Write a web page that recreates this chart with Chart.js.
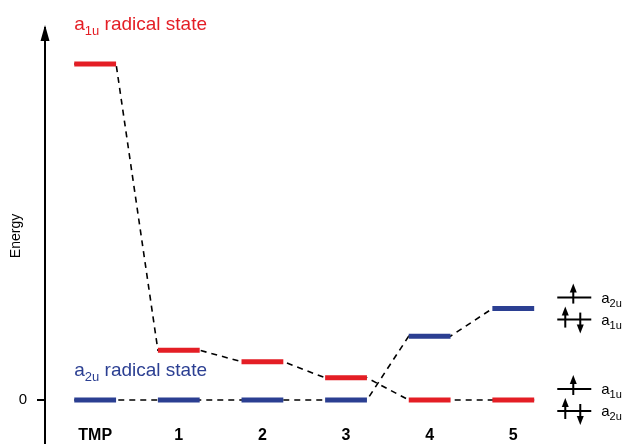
<!DOCTYPE html>
<html>
<head>
<meta charset="utf-8">
<script src="https://cdn.jsdelivr.net/npm/chart.js@4.4.0/dist/chart.umd.min.js"></script>
<style>
  html, body { margin: 0; padding: 0; background: #fff; }
</style>
</head>
<body>
<canvas id="levelChart" width="627" height="444"></canvas>
<script>
// compounds along the x axis
const categories = ["TMP", "1", "2", "3", "4", "5"];
// relative energies (arbitrary units, a2u of TMP = 0)
const a1uLevels = [10.0, 1.48, 1.14, 0.66, 0, 0];
const a2uLevels = [0, 0, 0, 0, 1.9, 2.72];
const yTickValues = [0];

const redColor = "#e41e25";
const blueColor = "#2b3f92";
const halfWidth = 0.25;

function levelPoints(levels){
    let pts = [];
    levels.forEach((v, i) => {
        pts.push({x: i - halfWidth, y: v});
        pts.push({x: i + halfWidth, y: v});
        pts.push({x: i + 0.5, y: null});
    });
    return pts;
}

function connectorPoints(levels){
    let pts = [];
    levels.forEach((v, i) => {
        pts.push({x: i - halfWidth, y: v});
        pts.push({x: i + halfWidth, y: v});
    });
    return pts;
}

function drawSubLabel(ctx, x, y, main, sub, rest, size, color){
    ctx.save();
    ctx.fillStyle = color;
    ctx.textBaseline = "alphabetic";
    ctx.textAlign = "left";
    ctx.font = size + "px 'Liberation Sans', Arial, sans-serif";
    ctx.fillText(main, x, y);
    let w = ctx.measureText(main).width;
    let subSize = Math.round(size * 0.71);
    ctx.font = subSize + "px 'Liberation Sans', Arial, sans-serif";
    ctx.fillText(sub, x + w, y + size * 0.27);
    w += ctx.measureText(sub).width;
    if(rest){
        ctx.font = size + "px 'Liberation Sans', Arial, sans-serif";
        ctx.fillText(rest, x + w, y);
    }
    ctx.restore();
}

function arrow(ctx, x, y1, y2){
    // from y1 (tail) to y2 (head)
    let dir = y2 < y1 ? 1 : -1;
    ctx.beginPath();
    ctx.moveTo(x, y1);
    ctx.lineTo(x, y2 + dir * 5);
    ctx.stroke();
    ctx.beginPath();
    ctx.moveTo(x, y2);
    ctx.lineTo(x - 3.5, y2 + dir * 9);
    ctx.lineTo(x + 3.5, y2 + dir * 9);
    ctx.closePath();
    ctx.fill();
}

const decorations = {
    id: "decorations",
    afterDraw(chart){
        const ctx = chart.ctx;
        const xs = chart.scales.x;
        const ys = chart.scales.y;
        const area = chart.chartArea;

        // arrow head on the energy axis
        ctx.save();
        ctx.fillStyle = "#000";
        ctx.beginPath();
        ctx.moveTo(area.left, area.top - 3);
        ctx.lineTo(area.left - 4.5, area.top + 13);
        ctx.lineTo(area.left + 4.5, area.top + 13);
        ctx.closePath();
        ctx.fill();
        ctx.restore();

        // state labels
        const lx = xs.getPixelForValue(-halfWidth);
        drawSubLabel(ctx, lx, ys.getPixelForValue(a1uLevels[0]) - 34, "a", "1u", " radical state", 19, redColor);
        drawSubLabel(ctx, lx, ys.getPixelForValue(a2uLevels[0]) - 24, "a", "2u", " radical state", 19, blueColor);

        // orbital occupation diagrams
        const cx = xs.getPixelForValue(categories.length - 1) + 61;
        const groups = [
            {y: ys.getPixelForValue(a2uLevels[a2uLevels.length - 1]), top: "2u", bottom: "1u"},
            {y: ys.getPixelForValue(0), top: "1u", bottom: "2u"}
        ];
        ctx.save();
        ctx.strokeStyle = "#000";
        ctx.fillStyle = "#000";
        ctx.lineWidth = 2;
        groups.forEach(g => {
            let yTop = g.y - 11;
            let yBot = g.y + 11;
            ctx.beginPath();
            ctx.moveTo(cx - 17, yTop);
            ctx.lineTo(cx + 17, yTop);
            ctx.moveTo(cx - 17, yBot);
            ctx.lineTo(cx + 17, yBot);
            ctx.stroke();
            arrow(ctx, cx - 1, yTop + 6, yTop - 14);
            arrow(ctx, cx - 9, yBot + 8, yBot - 13);
            arrow(ctx, cx + 6, yBot - 7, yBot + 14);
            drawSubLabel(ctx, cx + 27, yTop + 5, "a", g.top, "", 15, "#000");
            drawSubLabel(ctx, cx + 27, yBot + 5, "a", g.bottom, "", 15, "#000");
        });
        ctx.restore();
    }
};

new Chart("levelChart", {
    type: "line",
    data: {
        datasets: [
            {
                label: "a1u",
                data: levelPoints(a1uLevels),
                borderColor: redColor,
                borderWidth: 5,
                pointRadius: 0,
                spanGaps: false,
                order: 1
            },
            {
                label: "a2u",
                data: levelPoints(a2uLevels),
                borderColor: blueColor,
                borderWidth: 5,
                pointRadius: 0,
                spanGaps: false,
                order: 1
            },
            {
                label: "a1u link",
                data: connectorPoints(a1uLevels),
                borderColor: "#000",
                borderWidth: 1.6,
                borderDash: [6, 5],
                pointRadius: 0,
                order: 2
            },
            {
                label: "a2u link",
                data: connectorPoints(a2uLevels),
                borderColor: "#000",
                borderWidth: 1.6,
                borderDash: [6, 5],
                pointRadius: 0,
                order: 2
            }
        ]
    },
    options: {
        responsive: false,
        animation: false,
        layout: { padding: { top: 28, left: 0, right: 0, bottom: 0 } },
        plugins: {
            legend: { display: false },
            tooltip: { enabled: false }
        },
        scales: {
            x: {
                type: "linear",
                min: -0.6,
                max: 6.36,
                position: { y: -0.78 },
                grid: { display: false, drawTicks: false },
                border: { display: false },
                afterBuildTicks: s => { s.ticks = categories.map((c, i) => ({value: i})); },
                afterFit: s => { s.height = 0; },
                ticks: {
                    callback: v => categories[v],
                    color: "#000",
                    padding: 0,
                    maxRotation: 0,
                    autoSkip: false,
                    font: { family: "'Liberation Sans', Arial, sans-serif", size: 16, weight: "bold" }
                }
            },
            y: {
                min: -1.31,
                max: 11.07,
                afterBuildTicks: s => { s.ticks = yTickValues.map(v => ({value: v})); },
                afterFit: s => { s.width = 45; s.paddingTop = 0; s.paddingBottom = 0; },
                grid: { drawOnChartArea: false, color: "#000", tickLength: 8, lineWidth: 2 },
                border: { color: "#000", width: 2 },
                ticks: {
                    color: "#000",
                    padding: 10,
                    font: { family: "'Liberation Sans', Arial, sans-serif", size: 15 }
                },
                title: {
                    display: true,
                    text: "Energy",
                    color: "#000",
                    padding: { top: 8, bottom: 0 },
                    font: { family: "'Liberation Sans', Arial, sans-serif", size: 14 }
                }
            }
        }
    },
    plugins: [decorations]
});
</script>
</body>
</html>
